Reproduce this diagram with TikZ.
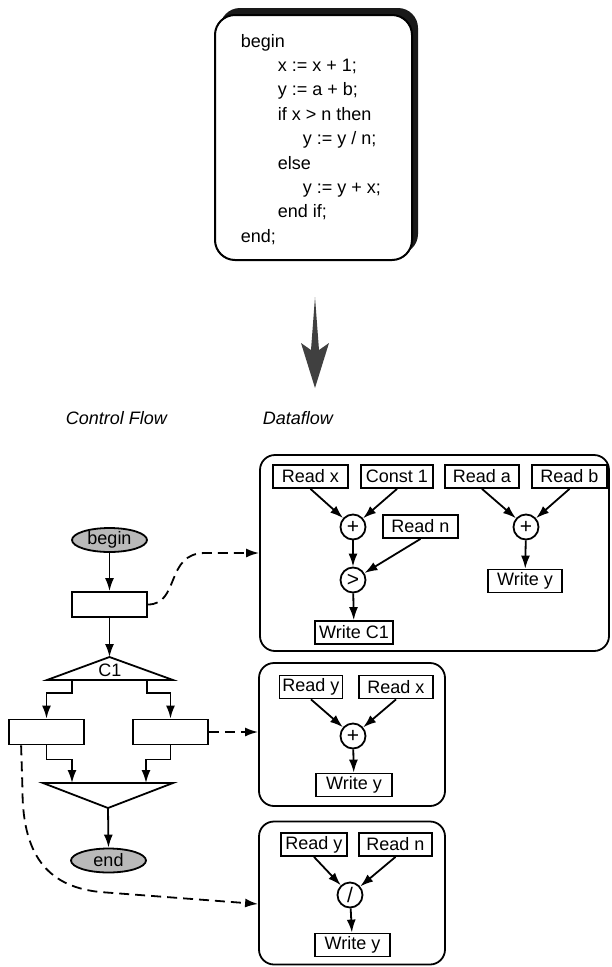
\documentclass[tikz,border=0pt]{standalone}
\usepackage{fontspec}
\setmainfont{Liberation Sans}
\usetikzlibrary{arrows.meta,shapes.geometric,calc}
\begin{document}
\begin{tikzpicture}[x=1pt,y=-1pt, line width=1.8pt,
  every node/.style={font=\fontsize{18}{22}\selectfont},
  dbox/.style={draw, minimum width=#1, minimum height=23pt, inner sep=0pt},
  op/.style={draw, circle, minimum size=25pt, inner sep=0pt, font=\fontsize{21}{24}\selectfont},
  group/.style={draw, rounded corners=15pt, inner sep=0pt},
  cfbox/.style={draw, minimum width=75pt, minimum height=25pt, inner sep=0pt},
  term/.style={draw, ellipse, fill=gray!55, minimum width=75pt, minimum height=24pt, inner sep=0pt},
  arr/.style={-{Latex[length=13pt,width=9pt]}},
  flow/.style={dash pattern=on 10pt off 6pt, -{Latex[length=13pt,width=9pt]}},
  codeline/.style={anchor=base west, inner sep=0pt}
]
\useasboundingbox (0,0) rectangle (611,967);

% code box with shadow
\node[fill=black!90, rounded corners=20pt, minimum width=198pt, minimum height=246pt, inner sep=0pt] (shadow) at (319,131) {};
\node[draw, fill=white, rounded corners=20pt, minimum width=197pt, minimum height=245pt, inner sep=0pt, line width=2pt] (code) at (313.5,137.5) {};
\node[codeline] (l1) at (240,47) {begin};
\node[codeline] (l2) at (277,71.4) {x := x + 1;};
\node[codeline] (l3) at (277,95.8) {y := a + b;};
\node[codeline] (l4) at (277,120.2) {if x > n then};
\node[codeline] (l5) at (302,144.6) {y := y / n;};
\node[codeline] (l6) at (277,169) {else};
\node[codeline] (l7) at (302,193.4) {y := y + x;};
\node[codeline] (l8) at (277,217.8) {end if;};
\node[codeline] (l9) at (240,242.2) {end;};

% big arrow
\fill[black!75] (315,297) -- (319,350) -- (329,343) -- (315,388) -- (301,343) -- (311,350) -- cycle;

% titles
\node[anchor=base west, inner sep=0pt, font=\fontsize{18}{22}\selectfont\itshape] (tcf) at (65,424) {Control Flow};
\node[anchor=base west, inner sep=0pt, font=\fontsize{18}{22}\selectfont\itshape] (tdf) at (262,424) {Dataflow};

% dataflow groups
\node[group, minimum width=349pt, minimum height=196pt] (box1) at (434.5,553) {};
\node[group, minimum width=186pt, minimum height=143pt] (box2) at (352,734.5) {};
\node[group, minimum width=186pt, minimum height=143pt] (box3) at (352,893) {};

% box 1
\node[dbox=75pt] (rx) at (310.5,476.5) {Read x};
\node[dbox=72pt] (cst) at (397,476.5) {Const 1};
\node[dbox=74pt] (ra) at (482,476.5) {Read a};
\node[dbox=75pt] (rb) at (569.5,476.5) {Read b};
\node[op] (p1) at (353,527) {+};
\node[dbox=75pt] (rn) at (420.5,526.5) {Read n};
\node[op] (gt) at (353,580) {>};
\node[dbox=78pt] (wc) at (354,632.5) {Write C1};
\node[op] (p2) at (526,527) {+};
\node[dbox=74pt] (wy1) at (525,581) {Write y};
\draw[arr] (rx.south) -- (p1);
\draw[arr] (cst.south) -- (p1);
\draw[arr] (p1) -- (gt);
\draw[arr] (rn.south) -- (gt);
\draw[arr] (gt) -- (wc);
\draw[arr] (ra.south) -- (p2);
\draw[arr] (rb.south) -- (p2);
\draw[arr] (p2) -- (wy1);

% box 2
\node[dbox=63pt] (ry2) at (311,687) {Read y};
\node[dbox=74pt] (rx2) at (396,687) {Read x};
\node[op] (p3) at (353,736) {+};
\node[dbox=76pt] (wy2) at (354,785) {Write y};
\draw[arr] (ry2.south) -- (p3);
\draw[arr] (rx2.south) -- (p3);
\draw[arr] (p3) -- (wy2);

% box 3
\node[dbox=66pt] (ry3) at (314,844.5) {Read y};
\node[dbox=73pt] (rn3) at (395.5,844.5) {Read n};
\node[op] (dv) at (350,895) {/};
\node[dbox=75pt] (wy3) at (352.5,945) {Write y};
\draw[arr] (ry3.south) -- (dv);
\draw[arr] (rn3.south) -- (dv);
\draw[arr] (dv) -- (wy3);

% control flow
\node[term] (begin) at (109.5,540) {begin};
\node[cfbox] (r1) at (109.5,604.5) {};
\coordinate (c1top) at (109.5,657);
\coordinate (c1l) at (47,680);
\coordinate (c1r) at (173,680);
\draw (c1top) -- (c1r) -- (c1l) -- cycle;
\node[inner sep=0pt] (c1lbl) at (110,670.5) {C1};
\coordinate (c1bl) at (72,680);
\coordinate (c1br) at (147,680);
\node[cfbox] (lb) at (46.5,732) {};
\node[cfbox] (rbx) at (170.5,732) {};
\coordinate (mtl) at (43,783);
\coordinate (mtr) at (173,783);
\coordinate (mapex) at (108,808);
\draw (mtl) -- (mtr) -- (mapex) -- cycle;
\coordinate (min1) at (72,783);
\coordinate (min2) at (146,783);
\node[term] (end) at (108.5,860.5) {end};

\draw[arr] (begin.south) -- (r1.north);
\draw[arr] (r1.south) -- (c1top);
\draw[arr] (c1bl) -- ++(0,13) -| (lb.north);
\draw[arr] (c1br) -- ++(0,13) -| (rbx.north);
\draw[arr] (lb.south) -- ++(0,14) -| (min1);
\draw[arr] (rbx.south) -- ++(0,14) -| (min2);
\draw[arr] (mapex) -- (end.north);

% dashed mapping connectors
\draw[flow] (r1.east) .. controls (180,604.5) and (165,553) .. (205,553) -- (box1.west);
\draw[flow] (rbx.east) -- (rbx.east -| box2.west);
\coordinate (b3in) at ($(box3.west)+(0,11)$);
\draw[flow] ($(lb.south west)+(13,0)$) -- (22.5,790) .. controls (22.5,860) and (52,887) .. (100,892) -- (b3in);
\end{tikzpicture}
\end{document}
